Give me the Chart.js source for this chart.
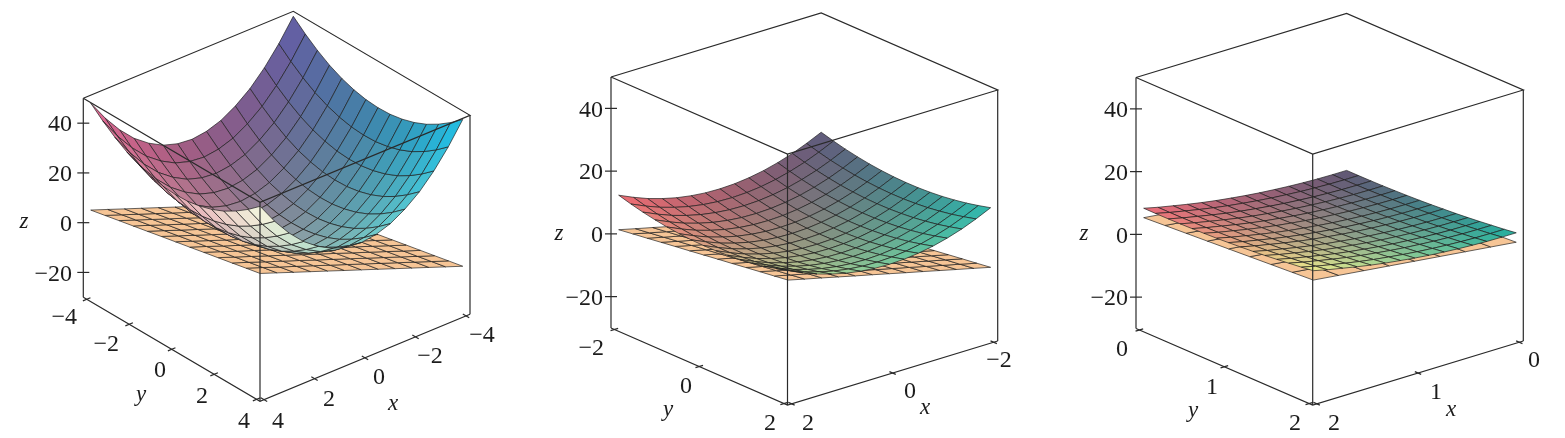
<!DOCTYPE html>
<html>
<head>
<meta charset="utf-8">
<title>Paraboloid and tangent plane</title>
<script src="https://cdn.jsdelivr.net/npm/chart.js@4"></script>
<style>
  html, body { margin: 0; padding: 0; background: #fff; }
  #wrap { position: relative; width: 1565px; height: 438px; overflow: hidden; }
  canvas { position: absolute; top: 0; }
</style>
</head>
<body>
<div id="wrap">
  <canvas id="chart1" width="525" height="438" style="left:0;width:525px;height:438px"></canvas>
  <canvas id="chart2" width="525" height="438" style="left:525px;width:525px;height:438px"></canvas>
  <canvas id="chart3" width="515" height="438" style="left:1050px;width:515px;height:438px"></canvas>
</div>
<script>
// axis ranges
const zRange = [-30, 50];
const zTicks = [40, 20, 0, -20];
const xRange1 = [-4, 4];
const xRange2 = [-2, 2];
const xRange3 = [0, 2];
const floorTicks1 = [-4, -2, 0, 2, 4];
const floorTicks2 = [-2, 0, 2];
const floorTicks3 = [0, 1, 2];

// grid lines of the surfaces (same for x and y)
const grid1 = [-4, -3.43, -2.86, -2.29, -1.71, -1.14, -0.57, 0, 0.57, 1.14, 1.71, 2.29, 2.86, 3.43, 4];
const grid2 = [-2, -1.71, -1.43, -1.14, -0.86, -0.57, -0.29, 0, 0.29, 0.57, 0.86, 1.14, 1.43, 1.71, 2];
const grid3 = [0, 0.14, 0.29, 0.43, 0.57, 0.71, 0.86, 1, 1.14, 1.29, 1.43, 1.57, 1.71, 1.86, 2];

// grid lines of the planes
const planeGrid1 = [-4, -3.33, -2.67, -2, -1.33, -0.67, 0, 0.67, 1.33, 2, 2.67, 3.33, 4];
const planeGrid2 = [-2, -1.67, -1.33, -1, -0.67, -0.33, 0, 0.33, 0.67, 1, 1.33, 1.67, 2];
const planeGrid3 = [0, 0.25, 0.5, 0.75, 1, 1.25, 1.5, 1.75, 2];

// surface heights, one row per x, one column per y
const surface1 = [
  [48, 43.8, 40.2, 37.2, 34.9, 33.3, 32.3, 32, 32.3, 33.3, 34.9, 37.2, 40.2, 43.8, 48],
  [39.5, 35.3, 31.7, 28.7, 26.4, 24.8, 23.8, 23.5, 23.8, 24.8, 26.4, 28.7, 31.7, 35.3, 39.5],
  [32.3, 28.1, 24.5, 21.5, 19.2, 17.6, 16.6, 16.3, 16.6, 17.6, 19.2, 21.5, 24.5, 28.1, 32.3],
  [26.4, 22.2, 18.6, 15.6, 13.3, 11.7, 10.7, 10.4, 10.7, 11.7, 13.3, 15.6, 18.6, 22.2, 26.4],
  [21.9, 17.7, 14.1, 11.1, 8.8, 7.2, 6.2, 5.9, 6.2, 7.2, 8.8, 11.1, 14.1, 17.7, 21.9],
  [18.6, 14.4, 10.8, 7.8, 5.5, 3.9, 2.9, 2.6, 2.9, 3.9, 5.5, 7.8, 10.8, 14.4, 18.6],
  [16.7, 12.5, 8.9, 5.9, 3.6, 2, 1, 0.7, 1, 2, 3.6, 5.9, 8.9, 12.5, 16.7],
  [16, 11.8, 8.2, 5.2, 2.9, 1.3, 0.3, 0, 0.3, 1.3, 2.9, 5.2, 8.2, 11.8, 16],
  [16.7, 12.5, 8.9, 5.9, 3.6, 2, 1, 0.7, 1, 2, 3.6, 5.9, 8.9, 12.5, 16.7],
  [18.6, 14.4, 10.8, 7.8, 5.5, 3.9, 2.9, 2.6, 2.9, 3.9, 5.5, 7.8, 10.8, 14.4, 18.6],
  [21.9, 17.7, 14.1, 11.1, 8.8, 7.2, 6.2, 5.9, 6.2, 7.2, 8.8, 11.1, 14.1, 17.7, 21.9],
  [26.4, 22.2, 18.6, 15.6, 13.3, 11.7, 10.7, 10.4, 10.7, 11.7, 13.3, 15.6, 18.6, 22.2, 26.4],
  [32.3, 28.1, 24.5, 21.5, 19.2, 17.6, 16.6, 16.3, 16.6, 17.6, 19.2, 21.5, 24.5, 28.1, 32.3],
  [39.5, 35.3, 31.7, 28.7, 26.4, 24.8, 23.8, 23.5, 23.8, 24.8, 26.4, 28.7, 31.7, 35.3, 39.5],
  [48, 43.8, 40.2, 37.2, 34.9, 33.3, 32.3, 32, 32.3, 33.3, 34.9, 37.2, 40.2, 43.8, 48]
];
const surface2 = [
  [12, 10.94, 10.04, 9.31, 8.73, 8.33, 8.08, 8, 8.08, 8.33, 8.73, 9.31, 10.04, 10.94, 12],
  [9.88, 8.82, 7.92, 7.19, 6.61, 6.21, 5.96, 5.88, 5.96, 6.21, 6.61, 7.19, 7.92, 8.82, 9.88],
  [8.08, 7.02, 6.12, 5.39, 4.81, 4.41, 4.16, 4.08, 4.16, 4.41, 4.81, 5.39, 6.12, 7.02, 8.08],
  [6.61, 5.55, 4.65, 3.92, 3.34, 2.94, 2.69, 2.61, 2.69, 2.94, 3.34, 3.92, 4.65, 5.55, 6.61],
  [5.47, 4.41, 3.51, 2.78, 2.2, 1.8, 1.55, 1.47, 1.55, 1.8, 2.2, 2.78, 3.51, 4.41, 5.47],
  [4.65, 3.59, 2.69, 1.96, 1.38, 0.98, 0.73, 0.65, 0.73, 0.98, 1.38, 1.96, 2.69, 3.59, 4.65],
  [4.16, 3.1, 2.2, 1.47, 0.89, 0.49, 0.24, 0.16, 0.24, 0.49, 0.89, 1.47, 2.2, 3.1, 4.16],
  [4, 2.94, 2.04, 1.31, 0.73, 0.33, 0.08, 0, 0.08, 0.33, 0.73, 1.31, 2.04, 2.94, 4],
  [4.16, 3.1, 2.2, 1.47, 0.89, 0.49, 0.24, 0.16, 0.24, 0.49, 0.89, 1.47, 2.2, 3.1, 4.16],
  [4.65, 3.59, 2.69, 1.96, 1.38, 0.98, 0.73, 0.65, 0.73, 0.98, 1.38, 1.96, 2.69, 3.59, 4.65],
  [5.47, 4.41, 3.51, 2.78, 2.2, 1.8, 1.55, 1.47, 1.55, 1.8, 2.2, 2.78, 3.51, 4.41, 5.47],
  [6.61, 5.55, 4.65, 3.92, 3.34, 2.94, 2.69, 2.61, 2.69, 2.94, 3.34, 3.92, 4.65, 5.55, 6.61],
  [8.08, 7.02, 6.12, 5.39, 4.81, 4.41, 4.16, 4.08, 4.16, 4.41, 4.81, 5.39, 6.12, 7.02, 8.08],
  [9.88, 8.82, 7.92, 7.19, 6.61, 6.21, 5.96, 5.88, 5.96, 6.21, 6.61, 7.19, 7.92, 8.82, 9.88],
  [12, 10.94, 10.04, 9.31, 8.73, 8.33, 8.08, 8, 8.08, 8.33, 8.73, 9.31, 10.04, 10.94, 12]
];
const surface3 = [
  [0, 0.02, 0.08, 0.18, 0.33, 0.51, 0.73, 1, 1.31, 1.65, 2.04, 2.47, 2.94, 3.45, 4],
  [0.04, 0.06, 0.12, 0.22, 0.37, 0.55, 0.77, 1.04, 1.35, 1.69, 2.08, 2.51, 2.98, 3.49, 4.04],
  [0.16, 0.18, 0.24, 0.34, 0.49, 0.67, 0.89, 1.16, 1.47, 1.81, 2.2, 2.63, 3.1, 3.61, 4.16],
  [0.37, 0.39, 0.45, 0.55, 0.7, 0.88, 1.1, 1.37, 1.68, 2.02, 2.41, 2.84, 3.31, 3.82, 4.37],
  [0.65, 0.67, 0.73, 0.83, 0.98, 1.16, 1.38, 1.65, 1.96, 2.3, 2.69, 3.12, 3.59, 4.1, 4.65],
  [1.02, 1.04, 1.1, 1.2, 1.35, 1.53, 1.75, 2.02, 2.33, 2.67, 3.06, 3.49, 3.96, 4.47, 5.02],
  [1.47, 1.49, 1.55, 1.65, 1.8, 1.98, 2.2, 2.47, 2.78, 3.12, 3.51, 3.94, 4.41, 4.92, 5.47],
  [2, 2.02, 2.08, 2.18, 2.33, 2.51, 2.73, 3, 3.31, 3.65, 4.04, 4.47, 4.94, 5.45, 6],
  [2.61, 2.63, 2.69, 2.79, 2.94, 3.12, 3.34, 3.61, 3.92, 4.26, 4.65, 5.08, 5.55, 6.06, 6.61],
  [3.31, 3.33, 3.39, 3.49, 3.64, 3.82, 4.04, 4.31, 4.62, 4.96, 5.35, 5.78, 6.25, 6.76, 7.31],
  [4.08, 4.1, 4.16, 4.26, 4.41, 4.59, 4.81, 5.08, 5.39, 5.73, 6.12, 6.55, 7.02, 7.53, 8.08],
  [4.94, 4.96, 5.02, 5.12, 5.27, 5.45, 5.67, 5.94, 6.25, 6.59, 6.98, 7.41, 7.88, 8.39, 8.94],
  [5.88, 5.9, 5.96, 6.06, 6.21, 6.39, 6.61, 6.88, 7.19, 7.53, 7.92, 8.35, 8.82, 9.33, 9.88],
  [6.9, 6.92, 6.98, 7.08, 7.23, 7.41, 7.63, 7.9, 8.21, 8.55, 8.94, 9.37, 9.84, 10.35, 10.9],
  [8, 8.02, 8.08, 8.18, 8.33, 8.51, 8.73, 9, 9.31, 9.65, 10.04, 10.47, 10.94, 11.45, 12]
];

// tangent plane heights
const plane1 = [
  [-27, -25.67, -24.33, -23, -21.67, -20.33, -19, -17.67, -16.33, -15, -13.67, -12.33, -11],
  [-24.33, -23, -21.67, -20.33, -19, -17.67, -16.33, -15, -13.67, -12.33, -11, -9.67, -8.33],
  [-21.67, -20.33, -19, -17.67, -16.33, -15, -13.67, -12.33, -11, -9.67, -8.33, -7, -5.67],
  [-19, -17.67, -16.33, -15, -13.67, -12.33, -11, -9.67, -8.33, -7, -5.67, -4.33, -3],
  [-16.33, -15, -13.67, -12.33, -11, -9.67, -8.33, -7, -5.67, -4.33, -3, -1.67, -0.33],
  [-13.67, -12.33, -11, -9.67, -8.33, -7, -5.67, -4.33, -3, -1.67, -0.33, 1, 2.33],
  [-11, -9.67, -8.33, -7, -5.67, -4.33, -3, -1.67, -0.33, 1, 2.33, 3.67, 5],
  [-8.33, -7, -5.67, -4.33, -3, -1.67, -0.33, 1, 2.33, 3.67, 5, 6.33, 7.67],
  [-5.67, -4.33, -3, -1.67, -0.33, 1, 2.33, 3.67, 5, 6.33, 7.67, 9, 10.33],
  [-3, -1.67, -0.33, 1, 2.33, 3.67, 5, 6.33, 7.67, 9, 10.33, 11.67, 13],
  [-0.33, 1, 2.33, 3.67, 5, 6.33, 7.67, 9, 10.33, 11.67, 13, 14.33, 15.67],
  [2.33, 3.67, 5, 6.33, 7.67, 9, 10.33, 11.67, 13, 14.33, 15.67, 17, 18.33],
  [5, 6.33, 7.67, 9, 10.33, 11.67, 13, 14.33, 15.67, 17, 18.33, 19.67, 21]
];
const plane2 = [
  [-15, -14.33, -13.67, -13, -12.33, -11.67, -11, -10.33, -9.67, -9, -8.33, -7.67, -7],
  [-13.67, -13, -12.33, -11.67, -11, -10.33, -9.67, -9, -8.33, -7.67, -7, -6.33, -5.67],
  [-12.33, -11.67, -11, -10.33, -9.67, -9, -8.33, -7.67, -7, -6.33, -5.67, -5, -4.33],
  [-11, -10.33, -9.67, -9, -8.33, -7.67, -7, -6.33, -5.67, -5, -4.33, -3.67, -3],
  [-9.67, -9, -8.33, -7.67, -7, -6.33, -5.67, -5, -4.33, -3.67, -3, -2.33, -1.67],
  [-8.33, -7.67, -7, -6.33, -5.67, -5, -4.33, -3.67, -3, -2.33, -1.67, -1, -0.33],
  [-7, -6.33, -5.67, -5, -4.33, -3.67, -3, -2.33, -1.67, -1, -0.33, 0.33, 1],
  [-5.67, -5, -4.33, -3.67, -3, -2.33, -1.67, -1, -0.33, 0.33, 1, 1.67, 2.33],
  [-4.33, -3.67, -3, -2.33, -1.67, -1, -0.33, 0.33, 1, 1.67, 2.33, 3, 3.67],
  [-3, -2.33, -1.67, -1, -0.33, 0.33, 1, 1.67, 2.33, 3, 3.67, 4.33, 5],
  [-1.67, -1, -0.33, 0.33, 1, 1.67, 2.33, 3, 3.67, 4.33, 5, 5.67, 6.33],
  [-0.33, 0.33, 1, 1.67, 2.33, 3, 3.67, 4.33, 5, 5.67, 6.33, 7, 7.67],
  [1, 1.67, 2.33, 3, 3.67, 4.33, 5, 5.67, 6.33, 7, 7.67, 8.33, 9]
];
const plane3 = [
  [-3, -2.5, -2, -1.5, -1, -0.5, 0, 0.5, 1],
  [-2, -1.5, -1, -0.5, 0, 0.5, 1, 1.5, 2],
  [-1, -0.5, 0, 0.5, 1, 1.5, 2, 2.5, 3],
  [0, 0.5, 1, 1.5, 2, 2.5, 3, 3.5, 4],
  [1, 1.5, 2, 2.5, 3, 3.5, 4, 4.5, 5],
  [2, 2.5, 3, 3.5, 4, 4.5, 5, 5.5, 6],
  [3, 3.5, 4, 4.5, 5, 5.5, 6, 6.5, 7],
  [4, 4.5, 5, 5.5, 6, 6.5, 7, 7.5, 8],
  [5, 5.5, 6, 6.5, 7, 7.5, 8, 8.5, 9]
];

const MINUS = "\u2212";
const planeColor = "#f6c596";
const meshColor = "rgba(28,28,28,0.75)";
const boxColor = "#2a2a2a";
const inset = 0.019; // the data stops a bit short of the box

function tickText(v) {
  return v < 0 ? MINUS + Math.abs(v) : String(v);
}

const panels = [
  {
    canvas: "chart1", left: 0, width: 525,
    range: xRange1, floorTicks: floorTicks1,
    grid: grid1, surface: surface1, planeGrid: planeGrid1, plane: plane1,
    back: [293.3, 210.3], ex: [-210, 87], ey: [176.7, 104], ez: [0, -199], frontShort: 0.005,
    colors: { back: [98, 95, 168], left: [222, 100, 145], right: [28, 190, 232], front: [250, 250, 225], mid: [-4, -8, -24] },
    zLabelRight: 72, zLetter: [24, 222],
    yLabels: [[77, 318], [119, 345], [166, 371], [208, 397], [250, 422]], yLetter: [141, 395],
    xLabels: [[278, 422], [329, 400], [379, 378], [430, 357], [482, 336]], xLetter: [393, 404]
  },
  {
    canvas: "chart2", left: 525, width: 525,
    range: xRange2, floorTicks: floorTicks2,
    grid: grid2, surface: surface2, planeGrid: planeGrid2, plane: plane2,
    back: [821.2, 264], ex: [-210.2, 64], ey: [176.5, 77], ez: [0, -251], frontShort: 0.018,
    colors: { back: [95, 90, 125], left: [238, 105, 115], right: [45, 185, 175], front: [200, 225, 150], mid: [0, -3, -8] },
    zLabelRight: 603, zLetter: [559, 234],
    yLabels: [[604, 349], [692, 387], [776, 424]], yLetter: [668, 410],
    xLabels: [[808, 424], [910, 392], [999, 361]], xLetter: [925, 408]
  },
  {
    canvas: "chart3", left: 1050, width: 515,
    range: xRange3, floorTicks: floorTicks3,
    grid: grid3, surface: surface3, planeGrid: planeGrid3, plane: plane3,
    back: [1346.6, 264.5], ex: [-210.6, 64], ey: [176.7, 76.5], ez: [0, -251], frontShort: 0.018,
    colors: { back: [95, 85, 115], left: [235, 105, 120], right: [35, 175, 160], front: [235, 235, 140], mid: [0, 0, 0] },
    zLabelRight: 1128, zLetter: [1084, 234],
    yLabels: [[1128, 350], [1218, 388], [1301, 424]], yLetter: [1193, 411],
    xLabels: [[1334, 424], [1436, 393], [1534, 361]], xLetter: [1451, 410]
  }
];

function buildChart(p) {
  // box coordinates (0..1 on each side) to the chart's own x/y values
  function boxPoint(u, v, w) {
    return {
      x: p.back[0] + u * p.ex[0] + v * p.ey[0] + w * p.ez[0],
      y: p.back[1] + u * p.ex[1] + v * p.ey[1] + w * p.ez[1]
    };
  }
  function part(val) {
    return (val - p.range[0]) / (p.range[1] - p.range[0]);
  }
  function side(val) {
    return inset + (1 - 2 * inset) * part(val);
  }
  function height(z) {
    return (z - zRange[0]) / (zRange[1] - zRange[0]);
  }
  // left and right corners sit well inside the box, back and front hardly
  function dataPoint(x, y, z) {
    const du = part(x) - 0.5, dv = part(y) - 0.5;
    const sum = (du + dv + 1) * (1 - p.frontShort) - 1;
    const diff = (du - dv) * (1 - 2 * inset);
    return boxPoint(0.5 + (sum + diff) / 2, 0.5 + (sum - diff) / 2, height(z));
  }
  function line(points, width) {
    return { data: points, borderColor: boxColor, borderWidth: width, fill: false, pointRadius: 0 };
  }

  const top = [];

  // the box
  top.push(line([boxPoint(1, 0, 1), boxPoint(0, 0, 1), boxPoint(0, 1, 1), boxPoint(1, 1, 1), boxPoint(1, 0, 1)], 1.2));
  top.push(line([boxPoint(1, 0, 0), boxPoint(1, 1, 0), boxPoint(0, 1, 0)], 1.2));
  top.push(line([boxPoint(1, 0, 0), boxPoint(1, 0, 1)], 1.2));
  top.push(line([boxPoint(1, 1, 0), boxPoint(1, 1, 1)], 1.2));
  top.push(line([boxPoint(0, 1, 0), boxPoint(0, 1, 1)], 1.2));

  // axis ticks
  zTicks.forEach(z => {
    const c = boxPoint(1, 0, height(z));
    top.push(line([{ x: c.x - 6, y: c.y }, { x: c.x + 6, y: c.y }], 1.2));
  });
  p.floorTicks.forEach(t => {
    const s = side(t);
    top.push(line([boxPoint(1.018, s, 0), boxPoint(0.982, s, 0)], 1.2));
    top.push(line([boxPoint(s, 1.018, 0), boxPoint(s, 0.982, 0)], 1.2));
  });

  // surface cells, nearest first because the first dataset is painted last
  const cells = [];
  const n = p.grid.length - 1;
  const c = p.colors;
  for (let i = 0; i < n; i++) {
    for (let j = 0; j < n; j++) {
      const s = (i + 0.5) / n, t = (j + 0.5) / n;
      const dull = 4 * s * (1 - s) + 4 * t * (1 - t) * (1 - s);
      const rgb = [0, 1, 2].map(k => Math.round(
        (1 - s) * (1 - t) * c.back[k] + s * (1 - t) * c.left[k] +
        (1 - s) * t * c.right[k] + s * t * c.front[k] + dull * c.mid[k]));
      const zMean = (p.surface[i][j] + p.surface[i + 1][j] + p.surface[i][j + 1] + p.surface[i + 1][j + 1]) / 4;
      cells.push({
        depth: s + 1.186 * t + 1.05 * height(zMean),
        data: [
          dataPoint(p.grid[i], p.grid[j], p.surface[i][j]),
          dataPoint(p.grid[i + 1], p.grid[j], p.surface[i + 1][j]),
          dataPoint(p.grid[i + 1], p.grid[j + 1], p.surface[i + 1][j + 1]),
          dataPoint(p.grid[i], p.grid[j + 1], p.surface[i][j + 1]),
          dataPoint(p.grid[i], p.grid[j], p.surface[i][j])
        ],
        backgroundColor: "rgb(" + rgb.join(",") + ")"
      });
    }
  }
  cells.sort((a, b) => b.depth - a.depth);

  const datasets = top.slice();
  cells.forEach(cell => {
    datasets.push({
      data: cell.data, backgroundColor: cell.backgroundColor, borderColor: meshColor,
      borderWidth: 0.9, fill: "shape", pointRadius: 0
    });
  });

  // the plane always lies under the surface, so it goes down first
  const m = p.planeGrid.length - 1;
  for (let i = 0; i < m; i++) {
    for (let j = 0; j < m; j++) {
      datasets.push({
        data: [
          dataPoint(p.planeGrid[i], p.planeGrid[j], p.plane[i][j]),
          dataPoint(p.planeGrid[i + 1], p.planeGrid[j], p.plane[i + 1][j]),
          dataPoint(p.planeGrid[i + 1], p.planeGrid[j + 1], p.plane[i + 1][j + 1]),
          dataPoint(p.planeGrid[i], p.planeGrid[j + 1], p.plane[i][j + 1]),
          dataPoint(p.planeGrid[i], p.planeGrid[j], p.plane[i][j])
        ],
        backgroundColor: planeColor, borderColor: meshColor,
        borderWidth: 0.9, fill: "shape", pointRadius: 0
      });
    }
  }

  const axisText = {
    id: "axisText",
    afterDraw(chart) {
      const ctx = chart.ctx;
      const sx = chart.scales.x, sy = chart.scales.y;
      function put(text, pos, align, italic) {
        ctx.font = (italic ? "italic 23px" : "24px") + " 'Liberation Serif'";
        ctx.textAlign = align;
        ctx.textBaseline = "middle";
        ctx.fillStyle = "#1c1c1c";
        ctx.fillText(text, sx.getPixelForValue(pos[0]), sy.getPixelForValue(pos[1]));
      }
      ctx.save();
      zTicks.forEach(z => {
        const c = boxPoint(1, 0, height(z));
        put(tickText(z), [p.zLabelRight, c.y + 2], "right");
      });
      p.floorTicks.forEach((t, i) => {
        put(tickText(t), p.yLabels[i], "right");
        put(tickText(t), p.xLabels[p.floorTicks.length - 1 - i], "center");
      });
      put("z", p.zLetter, "center", true);
      put("y", p.yLetter, "center", true);
      put("x", p.xLetter, "center", true);
      ctx.restore();
    }
  };

  new Chart(p.canvas, {
    type: "line",
    data: { datasets: datasets },
    options: {
      responsive: false,
      animation: false,
      devicePixelRatio: 1,
      events: [],
      layout: { padding: 0 },
      elements: { line: { tension: 0 } },
      plugins: { legend: { display: false }, tooltip: { enabled: false } },
      scales: {
        x: { type: "linear", min: p.left, max: p.left + p.width, display: false },
        y: { type: "linear", min: 0, max: 438, reverse: true, display: false }
      }
    },
    plugins: [axisText]
  });
}

panels.forEach(buildChart);
</script>
</body>
</html>
